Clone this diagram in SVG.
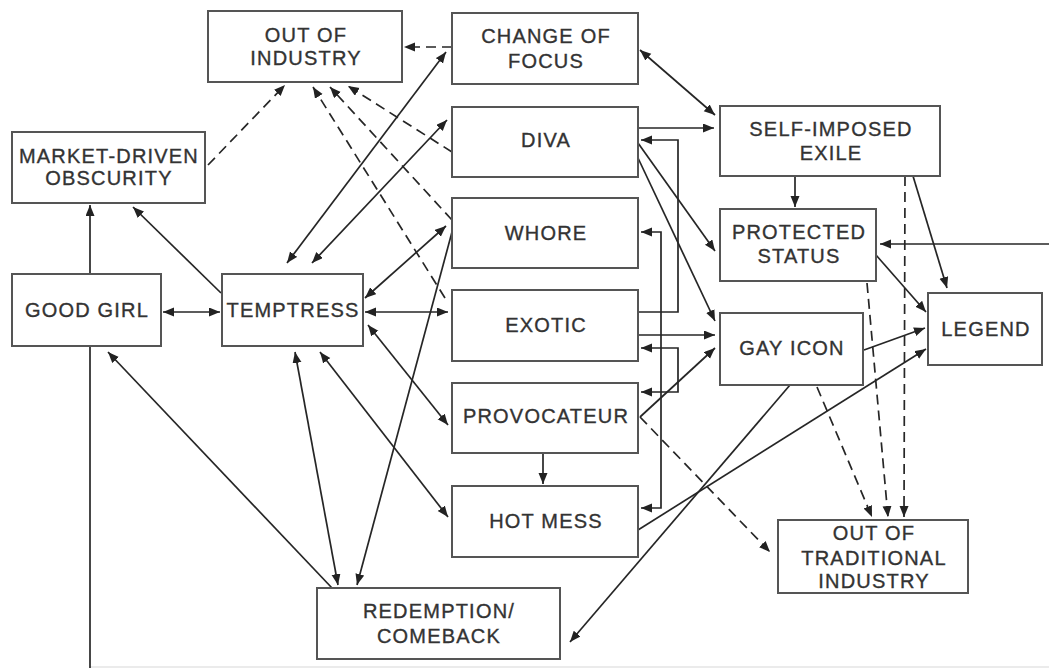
<svg xmlns="http://www.w3.org/2000/svg" width="1049" height="668" viewBox="0 0 1049 668">
<style>
.box{fill:#fff;stroke:#555;stroke-width:2}
.t{font-family:"Liberation Sans",Arial,sans-serif;font-size:20px;letter-spacing:1.2px;fill:#333;stroke:#333;stroke-width:0.35;text-anchor:middle}
.c{fill:none;stroke:#262626;stroke-width:1.7}
.d{stroke-dasharray:10 6}
.e{marker-end:url(#ah)}
.b{marker-start:url(#ah);marker-end:url(#ah)}
</style>
<defs>
<marker id="ah" markerUnits="userSpaceOnUse" markerWidth="12" markerHeight="10" refX="11" refY="4.5" orient="auto-start-reverse" viewBox="0 0 12 10">
<path d="M0,0 L11,4.5 L0,9 z" fill="#222"/>
</marker>
</defs>
<rect width="1049" height="668" fill="#fff"/>
<g id="connectors">
<path class="c" d="M90,667 L1049,667" style="stroke:#e4e4e4;stroke-width:1.5"/>
<path class="c d e" d="M452,47 L404,47"/>
<path class="c d e" d="M208,165 L285,85"/>
<path class="c d e" d="M452,152 L348,86"/>
<path class="c d e" d="M452,220 L330,87"/>
<path class="c d e" d="M445,298 L313,87"/>
<path class="c b" d="M287,263 L446,52"/>
<path class="c b" d="M312,263 L447,120"/>
<path class="c b" d="M365,298 L446,226"/>
<path class="c b" d="M365,312 L448,312"/>
<path class="c b" d="M368,325 L448,425"/>
<path class="c b" d="M320,352 L448,517"/>
<path class="c b" d="M295,352 L338,585"/>
<path class="c e" d="M332,588 L108,352"/>
<path class="c b" d="M163,312 L220,312"/>
<path class="c e" d="M221,293 L133,207"/>
<path class="c e" d="M90,668 L90,205"/>
<path class="c e" d="M452,232 L357,585"/>
<path class="c e" d="M638,128 L714,128"/>
<path class="c b" d="M640,50 L715,115"/>
<path class="c e" d="M638,312 L678,312 L678,140 L641,140"/>
<path class="c b" d="M641,232 L661,232 L661,508 L641,508"/>
<path class="c b" d="M641,348 L678,348 L678,392 L641,392"/>
<path class="c e" d="M638,335 L715,335"/>
<path class="c e" d="M640,417 L715,348"/>
<path class="c d e" d="M640,417 L770,552"/>
<path class="c e" d="M543,453 L543,484"/>
<path class="c e" d="M638,530 L926,349"/>
<path class="c e" d="M790,385 L570,642"/>
<path class="c e" d="M864,350 L925,328"/>
<path class="c d e" d="M817,387 L872,517"/>
<path class="c d e" d="M867,283 L888,517"/>
<path class="c d e" d="M905,176 L904,517"/>
<path class="c e" d="M913,176 L947,288"/>
<path class="c e" d="M795,176 L795,207"/>
<path class="c e" d="M876,255 L926,312"/>
<path class="c e" d="M1049,244 L880,244"/>
<path class="c e" d="M638,143 L715,251"/>
<path class="c e" d="M638,158 L715,321"/>
</g>
<g id="out-of-industry"><rect class="box" x="208" y="11" width="194" height="71"/><text class="t" x="306" y="42">OUT OF</text><text class="t" x="306" y="65">INDUSTRY</text></g>
<g id="change-of-focus"><rect class="box" x="452" y="13" width="186" height="71"/><text class="t" x="546" y="43">CHANGE OF</text><text class="t" x="546" y="68">FOCUS</text></g>
<g id="market-driven"><rect class="box" x="12" y="132" width="193" height="71"/><text class="t" x="109" y="163">MARKET-DRIVEN</text><text class="t" x="109" y="185">OBSCURITY</text></g>
<g id="diva"><rect class="box" x="452" y="107" width="186" height="70"/><text class="t" x="546" y="147">DIVA</text></g>
<g id="whore"><rect class="box" x="452" y="198" width="186" height="70"/><text class="t" x="546" y="240">WHORE</text></g>
<g id="exotic"><rect class="box" x="452" y="290" width="186" height="71"/><text class="t" x="546" y="332">EXOTIC</text></g>
<g id="provocateur"><rect class="box" x="452" y="383" width="186" height="70"/><text class="t" x="546" y="423">PROVOCATEUR</text></g>
<g id="hot-mess"><rect class="box" x="452" y="486" width="186" height="71"/><text class="t" x="546" y="528">HOT MESS</text></g>
<g id="redemption"><rect class="box" x="317" y="588" width="243" height="71"/><text class="t" x="439" y="618">REDEMPTION/</text><text class="t" x="439" y="643">COMEBACK</text></g>
<g id="good-girl"><rect class="box" x="12" y="274" width="149" height="72"/><text class="t" x="87" y="317">GOOD GIRL</text></g>
<g id="temptress"><rect class="box" x="222" y="274" width="141" height="72"/><text class="t" x="293" y="317">TEMPTRESS</text></g>
<g id="self-imposed-exile"><rect class="box" x="720" y="106" width="220" height="70"/><text class="t" x="831" y="136">SELF-IMPOSED</text><text class="t" x="831" y="160">EXILE</text></g>
<g id="protected-status"><rect class="box" x="720" y="209" width="156" height="72"/><text class="t" x="799" y="239">PROTECTED</text><text class="t" x="799" y="263">STATUS</text></g>
<g id="gay-icon"><rect class="box" x="720" y="313" width="143" height="72"/><text class="t" x="792" y="355">GAY ICON</text></g>
<g id="legend"><rect class="box" x="928" y="293" width="114" height="72"/><text class="t" x="986" y="336">LEGEND</text></g>
<g id="out-of-traditional-industry"><rect class="box" x="778" y="520" width="190" height="73"/><text class="t" x="874" y="540">OUT OF</text><text class="t" x="874" y="565">TRADITIONAL</text><text class="t" x="874" y="588">INDUSTRY</text></g>
</svg>
